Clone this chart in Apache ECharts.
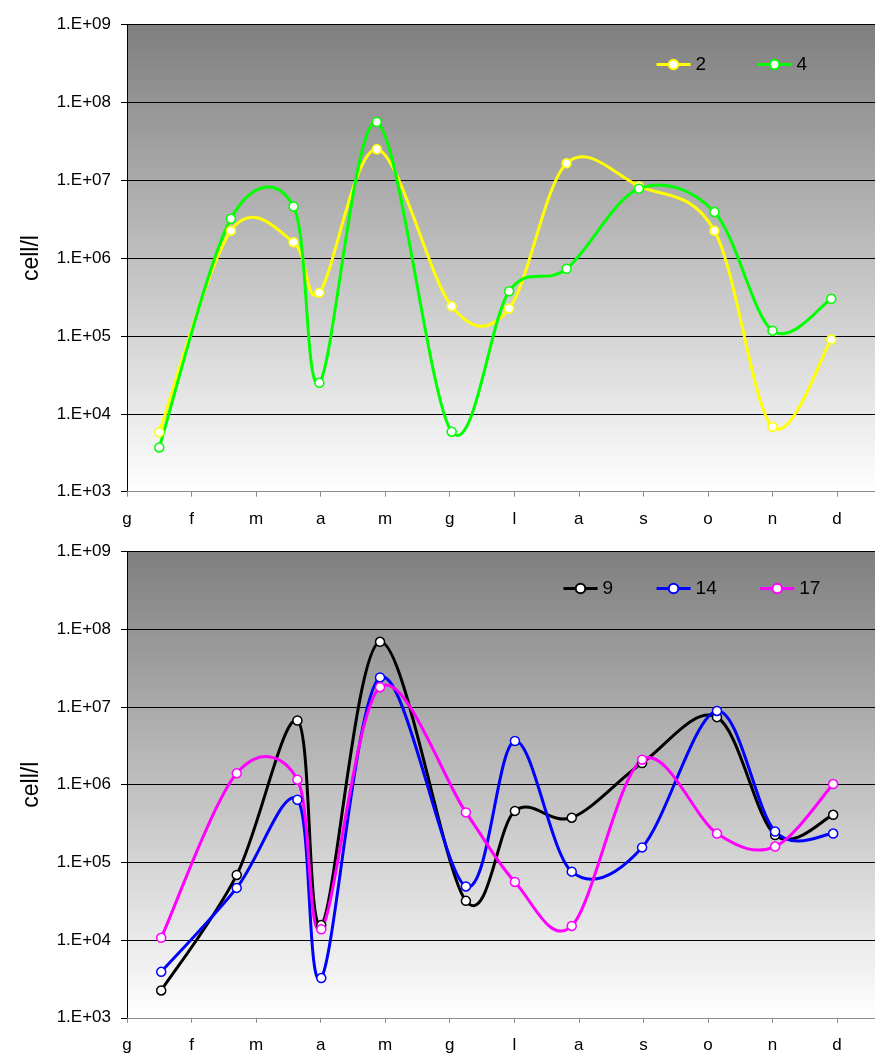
<!DOCTYPE html>
<html>
<head>
<meta charset="utf-8">
<script src="https://cdn.jsdelivr.net/npm/echarts@6/dist/echarts.min.js"></script>
<style>
html,body{margin:0;padding:0;background:#fff;}
#chart{width:875px;height:1057px;}
</style>
</head>
<body>
<div id="chart"></div>
<script>
// Month labels (Italian initials)
const months = ['g','f','m','a','m','g','l','a','s','o','n','d'];
const yTickLabels = ['1.E+03','1.E+04','1.E+05','1.E+06','1.E+07','1.E+08','1.E+09'];

// Top chart: sampling positions (month units from 1 Jan) and cell/l values
const xTop = [0.50, 1.61, 2.58, 2.98, 3.87, 5.03, 5.92, 6.81, 7.93, 9.10, 10.00, 10.91];
const st2 = [5.8e3, 2.25e6, 1.6e6, 3.6e5, 2.5e7, 2.4e5, 2.25e5, 1.65e7, 8.4e6, 2.25e6, 6.8e3, 9.0e4];
const st4 = [3.7e3, 3.2e6, 4.6e6, 2.5e4, 5.6e7, 5.9e3, 3.75e5, 7.3e5, 7.8e6, 3.9e6, 1.17e5, 3.0e5];

// Bottom chart
const xBot = [0.53, 1.70, 2.64, 3.01, 3.92, 5.25, 6.01, 6.89, 7.98, 9.14, 10.04, 10.94];
const st9  = [2.25e3, 6.9e4, 6.7e6, 1.56e4, 6.9e7, 3.2e4, 4.6e5, 3.76e5, 1.9e6, 7.4e6, 2.25e5, 4.1e5];
const st14 = [3.9e3, 4.7e4, 6.4e5, 3.25e3, 2.4e7, 4.9e4, 3.65e6, 7.6e4, 1.56e5, 8.9e6, 2.5e5, 2.35e5];
const st17 = [1.07e4, 1.4e6, 1.16e6, 1.38e4, 1.8e7, 4.4e5, 5.6e4, 1.52e4, 2.1e6, 2.35e5, 1.6e5, 1.02e6];

const FONT = "'Liberation Sans', Arial, sans-serif";
const chart = echarts.init(document.getElementById('chart'), null, {renderer: 'canvas'});

const bg = {
  type: 'linear', x: 0, y: 0, x2: 0, y2: 1,
  colorStops: [{offset: 0, color: '#7f7f7f'}, {offset: 1, color: '#ffffff'}]
};

function xAxisDef(gi) {
  return {
    type: 'value', gridIndex: gi, min: 0, max: 11.588, interval: 1,
    axisLine: {show: true, onZero: false, lineStyle: {color: '#8c8c8c', width: 1}},
    axisTick: {show: true, inside: false, length: 5, lineStyle: {color: '#8c8c8c'}},
    splitLine: {show: false},
    axisLabel: {
      show: true, margin: 19, fontSize: 17, color: '#000', fontFamily: FONT,
      showMaxLabel: false,
      formatter: function (v) {
        const r = Math.round(v);
        if (Math.abs(v - r) < 1e-6 && r >= 0 && r < months.length) return months[r];
        return '';
      }
    }
  };
}
function yAxisDef(gi) {
  return {
    type: 'log', logBase: 10, gridIndex: gi, min: 1e3, max: 1e9, splitNumber: 6,
    name: 'cell/l', nameLocation: 'middle', nameRotate: 90, nameGap: 84,
    nameTextStyle: {fontSize: 23, color: '#000', fontFamily: FONT},
    axisLine: {show: true, onZero: false, lineStyle: {color: '#000', width: 1}},
    axisTick: {show: true, inside: false, length: 6, lineStyle: {color: '#000'}},
    splitLine: {show: true, lineStyle: {color: '#000', width: 1}},
    axisLabel: {
      margin: 16, fontSize: 17, color: '#000', fontFamily: FONT,
      formatter: function (v) {
        const e = Math.round(Math.log10(v));
        return yTickLabels[e - 3] || '';
      }
    }
  };
}

// Smoothed curve (Excel-like cardinal Bezier) drawn through the axes' own coordinate conversion
function curve(name, color, xs, ys, gi) {
  const n = xs.length;
  return {
    name: name + ' curve', type: 'custom', coordinateSystem: 'cartesian2d',
    xAxisIndex: gi, yAxisIndex: gi, z: 2, clip: true, silent: true,
    data: xs.map((x, i) => [x, ys[i]]),
    encode: {x: 0, y: 1},
    renderItem: function (params, api) {
      const i = params.dataIndex;
      if (i >= n - 1) return null;
      const P = j => {
        const k = Math.max(0, Math.min(n - 1, j));
        return api.coord([xs[k], ys[k]]);
      };
      const p0 = P(i - 1), p1 = P(i), p2 = P(i + 1), p3 = P(i + 2);
      return {
        type: 'bezierCurve',
        shape: {
          x1: p1[0], y1: p1[1], x2: p2[0], y2: p2[1],
          cpx1: p1[0] + (p2[0] - p0[0]) / 6, cpy1: p1[1] + (p2[1] - p0[1]) / 6,
          cpx2: p2[0] - (p3[0] - p1[0]) / 6, cpy2: p2[1] - (p3[1] - p1[1]) / 6
        },
        style: {stroke: color, lineWidth: 3, fill: 'none', lineCap: 'round', lineJoin: 'round'}
      };
    },
    animation: false
  };
}

function markers(name, color, xs, ys, gi) {
  return {
    name: name, type: 'line', xAxisIndex: gi, yAxisIndex: gi, z: 3,
    data: xs.map((x, i) => [x, ys[i]]),
    symbol: 'circle', symbolSize: 9,
    lineStyle: {color: color, width: 3, opacity: 0},
    itemStyle: {color: '#ffffff', borderColor: color, borderWidth: 1.5},
    emphasis: {disabled: true},
    animation: false
  };
}

const defs = [
  ['2', '#ffff00', xTop, st2, 0],
  ['4', '#00ff00', xTop, st4, 0],
  ['9', '#000000', xBot, st9, 1],
  ['14', '#0000ff', xBot, st14, 1],
  ['17', '#ff00ff', xBot, st17, 1]
];
const series = [];
defs.forEach(d => series.push(curve(...d)));
defs.forEach(d => series.push(markers(...d)));

function legendItem(d) {
  return {name: d[0], lineStyle: {color: d[1], width: 3, opacity: 1, type: 'solid'}};
}

chart.setOption({
  backgroundColor: '#ffffff',
  animation: false,
  grid: [
    {left: 127, top: 24.5, height: 467.2, right: 0, show: true, backgroundColor: bg, borderWidth: 0},
    {left: 127, top: 551.6, height: 466.2, right: 0, show: true, backgroundColor: bg, borderWidth: 0}
  ],
  xAxis: [xAxisDef(0), xAxisDef(1)],
  yAxis: [yAxisDef(0), yAxisDef(1)],
  legend: [
    {data: defs.slice(0, 2).map(legendItem), left: 655, top: 55, padding: 0,
     itemWidth: 34, itemHeight: 12, itemGap: 50,
     textStyle: {fontSize: 19, color: '#000', fontFamily: FONT}},
    {data: defs.slice(2).map(legendItem), left: 562, top: 579, padding: 0,
     itemWidth: 34, itemHeight: 12, itemGap: 42,
     textStyle: {fontSize: 19, color: '#000', fontFamily: FONT}}
  ],
  series: series
});
</script>
</body>
</html>
